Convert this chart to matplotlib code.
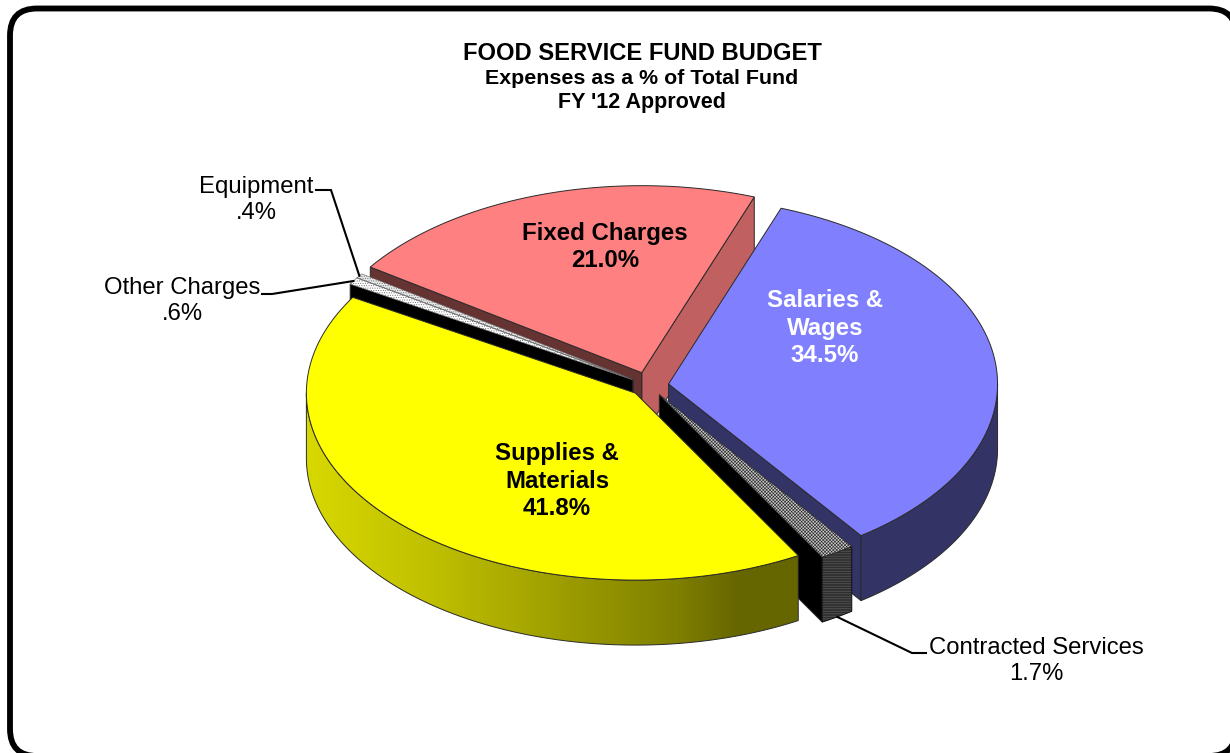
import numpy as np
import matplotlib
matplotlib.use('Agg')
import matplotlib.pyplot as plt
from matplotlib.patches import Polygon, FancyBboxPatch
from matplotlib.colors import LinearSegmentedColormap

plt.rcParams['font.family'] = ['Liberation Sans', 'DejaVu Sans']
plt.rcParams['hatch.linewidth'] = 0.4

# clockwise from the top of the pie, starting angle below
names = ['Salaries &\nWages', 'Contracted Services', 'Supplies &\nMaterials',
         'Other Charges', 'Equipment', 'Fixed Charges']
shares = [34.5, 1.7, 41.8, 0.6, 0.4, 21.0]
top_colors = ['#8080ff', '#c8c8c8', '#ffff00', '#ffffff', '#e8e8e8', '#ff8080']
outer_colors = ['#333366', '#505050', None, '#404040', '#404040', '#663333']
# wall on the leading cut edge / trailing cut edge
side_colors = ['#333366', '#000000', '#666600', '#000000', '#000000', '#663333']
end_colors = ['#333366', '#000000', '#666600', '#000000', '#000000', '#c06060']
top_hatch = [None, 'xxxxxxxxxx', None, '.......', '.......', None]
hatch_colors = ['#000000', '#222222', '#000000', '#666666', '#666666', '#000000']
outer_hatch = [None, '----------', None, None, None, None]
explode = [0.06, 0.058, 0.058, 0.058, 0.058, 0.072]
draw_order = [5, 4, 3, 0, 1, 2]

title_lines = ['FOOD SERVICE FUND BUDGET', 'Expenses as a % of Total Fund', "FY '12 Approved"]
wall_stops = [(0.0, '#d8d800'), (0.25, '#c0c000'), (0.5, '#a0a000'), (0.75, '#808000'), (0.88, '#666600'), (1.0, '#666600')]

start_angle = 20
cx, cy = 649, 385.5
rx, ry = 329, 187
depth = 65
edge = '#2a2a2a'

edges = start_angle + np.concatenate([[0], np.cumsum(shares)]) * 3.6


def pt(x0, y0, ang):
    t = np.radians(ang)
    return np.array([x0 + rx * np.sin(t), y0 - ry * np.cos(t)])


def arc(x0, y0, a, b):
    t = np.radians(np.linspace(a, b, 120))
    return np.column_stack([x0 + rx * np.sin(t), y0 - ry * np.cos(t)])


fig = plt.figure(figsize=(12.3, 7.53), dpi=100)
ax = fig.add_axes([0, 0, 1, 1])
ax.set_xlim(0, 1230)
ax.set_ylim(753, 0)
ax.axis('off')

# frame runs off the right and bottom of the picture
ax.add_patch(FancyBboxPatch((10, 8.5), 1226, 747.5, boxstyle='round,pad=0,rounding_size=27',
                            fc='white', ec='black', lw=4.2, zorder=0))

centers = []
for i in range(len(shares)):
    mid = (edges[i] + edges[i + 1]) / 2
    t = np.radians(mid)
    centers.append((cx + explode[i] * rx * np.sin(t), cy - explode[i] * ry * np.cos(t)))

z = 1
down = np.array([0, depth])
for i in draw_order:
    x0, y0 = centers[i]
    a, b = edges[i], edges[i + 1]
    apex = np.array([x0, y0])

    # cut faces: only the ones turned towards the viewer
    if np.cos(np.radians(b + 90)) < 0:
        p = pt(x0, y0, b)
        ax.add_patch(Polygon([apex, p, p + down, apex + down], fc=end_colors[i], ec=edge, lw=0.7, zorder=z))
    if np.cos(np.radians(a - 90)) < 0:
        p = pt(x0, y0, a)
        ax.add_patch(Polygon([apex, p, p + down, apex + down], fc=side_colors[i], ec=edge, lw=0.7, zorder=z))

    # outer wall, front half of the rim only
    lo, hi = max(a, 90), min(b, 270)
    if lo < hi:
        rim = arc(x0, y0, lo, hi)
        wall = np.vstack([rim, rim[::-1] + down])
        if outer_colors[i] is None:
            patch = Polygon(wall, fc='none', ec=edge, lw=0.7, zorder=z + 0.2)
            ax.add_patch(patch)
            cmap = LinearSegmentedColormap.from_list('wall', wall_stops)
            im = ax.imshow(np.linspace(0, 1, 256)[None, :], cmap=cmap, aspect='auto', zorder=z + 0.1,
                           extent=[wall[:, 0].min(), wall[:, 0].max(), wall[:, 1].max(), wall[:, 1].min()])
            im.set_clip_path(patch)
        else:
            ax.add_patch(Polygon(wall, fc=outer_colors[i], ec='#111111' if outer_hatch[i] else edge, lw=0.7,
                                 hatch=outer_hatch[i], zorder=z + 0.2))

    top = np.vstack([apex, arc(x0, y0, a, b)])
    if top_hatch[i]:
        ax.add_patch(Polygon(top, fc=top_colors[i], ec=hatch_colors[i], lw=0.4, hatch=top_hatch[i], zorder=z + 0.3))
    else:
        ax.add_patch(Polygon(top, fc=top_colors[i], ec=edge, lw=0.7, zorder=z + 0.3))
    z += 1

ax.set_xlim(0, 1230)
ax.set_ylim(753, 0)


def leader(i, knots):
    mid = (edges[i] + edges[i + 1]) / 2
    p = pt(*centers[i], mid)
    if np.cos(np.radians(mid)) < 0:
        p = p + down
    xs = [p[0]] + [k[0] for k in knots]
    ys = [p[1]] + [k[1] for k in knots]
    ax.plot(xs, ys, color='black', lw=1.5, zorder=20, solid_joinstyle='miter')


def pct(v):
    return f'{v:.1f}%'.removeprefix('0')


leader(4, [(331, 190), (316, 190)])
leader(3, [(272, 294), (262, 294)])
leader(1, [(912, 653), (926, 653)])

inner = {5: (605, 247, 'black'), 0: (825, 328, 'white'), 2: (557, 481, 'black')}
for i, (x, y, c) in inner.items():
    ax.text(x, y, names[i] + '\n' + pct(shares[i]), ha='center', va='center', color=c,
            fontsize=17.3, fontweight='bold', linespacing=1.23, zorder=30)

outer = {4: (256.5, 200), 3: (182, 301), 1: (1036, 661)}
for i, (x, y) in outer.items():
    ax.text(x, y, names[i] + '\n' + pct(shares[i]), ha='center', va='center', color='black',
            fontsize=17.2, linespacing=1.25, zorder=30)

title_sizes = [17.1, 15.4, 15.5]
title_y = [53, 78, 102]
for line, s, y in zip(title_lines, title_sizes, title_y):
    ax.text(642, y, line, ha='center', va='center', fontsize=s, fontweight='bold', zorder=30)

fig.savefig('out.png', dpi=100)
